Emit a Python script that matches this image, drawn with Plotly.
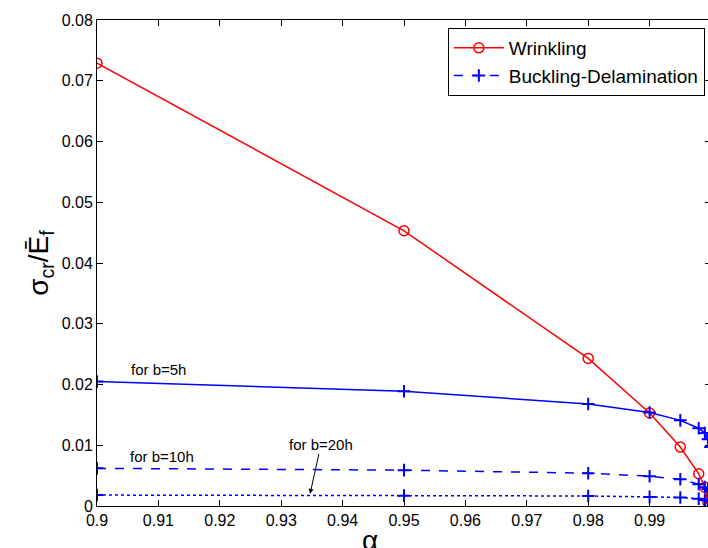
import plotly.graph_objects as go

alpha = [0.9, 0.95, 0.98, 0.99, 0.995, 0.998, 0.999, 0.9995, 0.9999]
wrinkling = [0.0729, 0.0453, 0.0243, 0.0153, 0.0097, 0.0053, 0.0031, 0.0006, 0.0]
buck_5h = [0.0205, 0.0189, 0.0168, 0.0154, 0.0141, 0.0128, 0.0120, 0.0110, 0.0097]
buck_10h = [0.0062, 0.0059, 0.0054, 0.0049, 0.0044, 0.0036, 0.0031, 0.0028, 0.0025]
buck_20h = [0.0018, 0.0017, 0.00165, 0.0015, 0.0014, 0.0012, 0.0010, 0.0009, 0.0008]

xticks = [0.9, 0.91, 0.92, 0.93, 0.94, 0.95, 0.96, 0.97, 0.98, 0.99, 1.0]
xticklabels = ["0.9", "0.91", "0.92", "0.93", "0.94", "0.95", "0.96", "0.97", "0.98", "0.99", "1"]
yticks = [0, 0.01, 0.02, 0.03, 0.04, 0.05, 0.06, 0.07, 0.08]
yticklabels = ["0", "0.01", "0.02", "0.03", "0.04", "0.05", "0.06", "0.07", "0.08"]

RED = "#ff0000"
BLUE = "#0000ff"
FONT = "Liberation Sans, Arial"

fig = go.Figure()
fig.add_trace(go.Scatter(
    x=alpha, y=wrinkling, name="Wrinkling", mode="lines+markers",
    line=dict(color=RED, width=1.5),
    marker=dict(symbol="circle-open", size=10, color=RED, line=dict(width=1.5, color=RED)),
))
fig.add_trace(go.Scatter(
    x=alpha, y=buck_10h, name="Buckling-Delamination", mode="lines+markers",
    line=dict(color=BLUE, width=1.5, dash="dash"),
    marker=dict(symbol="cross-thin", size=9, color=BLUE, line=dict(width=2, color=BLUE)),
))
fig.add_trace(go.Scatter(
    x=alpha, y=buck_5h, name="b=5h", mode="lines+markers", showlegend=False,
    line=dict(color=BLUE, width=1.5),
    marker=dict(symbol="cross-thin", size=9, color=BLUE, line=dict(width=2, color=BLUE)),
))
fig.add_trace(go.Scatter(
    x=alpha, y=buck_20h, name="b=20h", mode="lines+markers", showlegend=False,
    line=dict(color=BLUE, width=1.5, dash="dot"),
    marker=dict(symbol="cross-thin", size=9, color=BLUE, line=dict(width=2, color=BLUE)),
))

ann_font = dict(family=FONT, size=15, color="black")
fig.add_annotation(x=0.90994, y=0.02255, text="for b=5h", showarrow=False, font=ann_font)
fig.add_annotation(x=0.9106, y=0.00823, text="for b=10h", showarrow=False, font=ann_font)
fig.add_annotation(x=0.9347, y=0.0020, ax=0.9365, ay=0.0102, axref="x", ayref="y",
                   text="for b=20h", showarrow=True, arrowhead=2, arrowsize=1,
                   arrowwidth=1, arrowcolor="black", font=ann_font)
fig.add_annotation(x=0.4446, y=-0.07, xref="paper", yref="paper", text="α",
                   showarrow=False, font=dict(family=FONT, size=28, color="black"),
                   yanchor="middle")

fig.update_layout(
    width=711, height=548,
    margin=dict(l=97, r=0, t=20, b=42),
    paper_bgcolor="white", plot_bgcolor="white",
    font=dict(family=FONT, size=16, color="black"),
    showlegend=True,
    legend=dict(x=0.990, y=0.9835, xanchor="right", yanchor="top",
                bordercolor="black", borderwidth=1, bgcolor="white",
                font=dict(size=19), tracegroupgap=0, itemwidth=50),
    xaxis=dict(range=[0.9, 1.0], tickvals=xticks, ticktext=xticklabels,
               ticks="inside", ticklen=6, tickcolor="black", showline=True,
               linecolor="black", linewidth=1, mirror="ticks", showgrid=False,
               zeroline=False),
    yaxis=dict(range=[0, 0.08], tickvals=yticks, ticktext=yticklabels,
               ticks="inside", ticklen=6, tickcolor="black", showline=True,
               linecolor="black", linewidth=1, mirror="ticks", showgrid=False,
               zeroline=False,
               title=dict(text="σ<sub>cr</sub>/Ē<sub>f</sub>",
                          font=dict(size=28), standoff=4)),
)

fig.write_html(
    "out.html",
    config={"displayModeBar": False},
    post_script="document.body.style.margin='0';"
                "document.documentElement.style.overflow='hidden';"
                "document.body.style.overflow='hidden';",
)
